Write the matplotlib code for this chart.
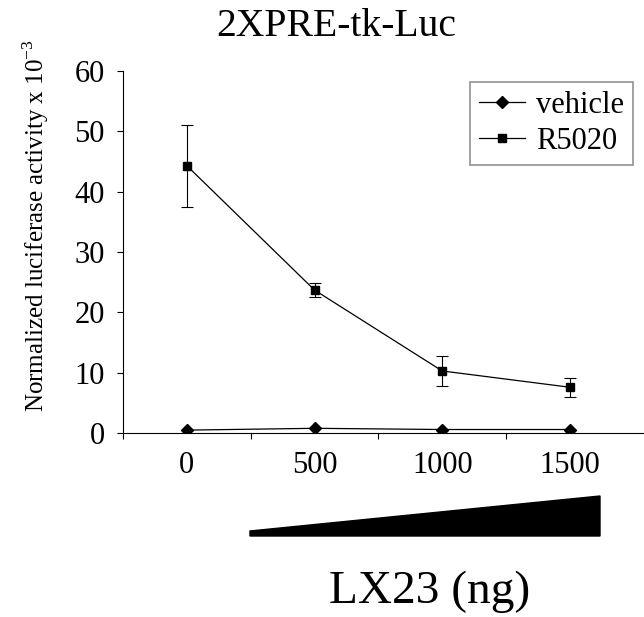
import matplotlib
matplotlib.use('Agg')
import matplotlib.pyplot as plt
from matplotlib.patches import Polygon

plt.rcParams['font.family'] = ['Liberation Serif', 'DejaVu Serif']

# data
doses = ['0', '500', '1000', '1500']
vehicle = [0.5, 0.8, 0.6, 0.6]
r5020 = [44.3, 23.7, 10.3, 7.6]
r5020_err = [6.8, 1.1, 2.5, 1.6]

fig = plt.figure(figsize=(6.44, 6.17), dpi=100)
ax = fig.add_axes([0.191, 0.298, 0.809, 0.587])

x = list(range(len(doses)))
ax.plot(x, vehicle, color='black', lw=0.9, marker='D', ms=6.5, mfc='black', mec='black', label='vehicle')
ax.errorbar(x, r5020, yerr=r5020_err, fmt='none', ecolor='black', elinewidth=0.8,
            capsize=4.5, capthick=0.8)
ax.plot(x, r5020, color='black', lw=0.9, marker='s', ms=6, mfc='black', mec='black', label='R5020')

ax.set_ylim(0, 60)
ax.set_xlim(-0.5, 3.58)
ax.set_yticks([0, 10, 20, 30, 40, 50, 60])
ax.set_xticks([-0.5, 0.5, 1.5, 2.5])
ax.set_xticklabels([])
ax.set_xticks(x, minor=True)
ax.set_xticklabels(doses, minor=True)
ax.tick_params(axis='x', which='major', direction='out', length=4.5, width=0.8)
ax.tick_params(axis='x', which='minor', length=0, pad=13, labelsize=22)
ax.tick_params(axis='y', direction='out', length=4.5, width=0.8, labelsize=22, pad=8.5)
for s in ['top', 'right']:
    ax.spines[s].set_visible(False)
ax.spines['left'].set_linewidth(0.8)
ax.spines['bottom'].set_linewidth(0.8)

fig.text(36 / 644, 1 - 226 / 617, 'Normalized luciferase activity x 10$^{\\mathregular{-3}}$',
         fontsize=18, rotation=90, ha='center', va='center')
fig.text(336 / 644, 1 - 36 / 617, '2XPRE-tk-Luc', fontsize=28.5, ha='center', va='baseline')

leg = ax.legend(loc='upper left', fontsize=22, frameon=True, fancybox=False,
                edgecolor='#808080', borderpad=0.3, labelspacing=0.22, handlelength=1.5,
                handletextpad=0.35, borderaxespad=0, bbox_to_anchor=((470 - 123) / 521, (433 - 82) / 362))
leg.get_frame().set_linewidth(1.3)

# increasing-dose wedge below the axis
wedge = Polygon([(250 / 644, 1 - 536 / 617), (600 / 644, 1 - 536 / 617),
                 (600 / 644, 1 - 496 / 617), (250 / 644, 1 - 531 / 617)],
                closed=True, transform=fig.transFigure, facecolor='black', edgecolor='black')
fig.patches.append(wedge)

fig.text(430 / 644, 1 - 603 / 617, 'LX23 (ng)', fontsize=34, ha='center', va='baseline')

fig.savefig('out.png', dpi=100)
